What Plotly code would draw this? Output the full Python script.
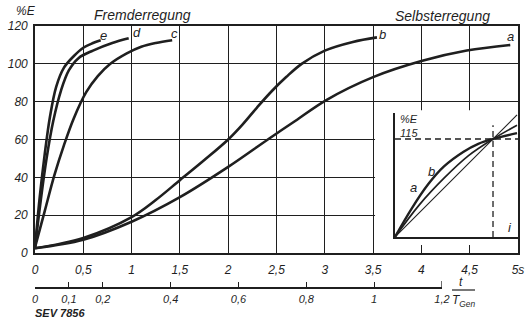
import plotly.graph_objects as go

# --- data -----------------------------------------------------------------
# Time axis (s) and terminal voltage in % of E for the five build-up curves
e_t = [0, 0.05, 0.1, 0.155, 0.22, 0.3, 0.4, 0.5, 0.6, 0.68]
e_v = [3, 30, 52, 72, 88, 98, 104, 108.5, 111, 112.5]

d_t = [0, 0.06, 0.12, 0.19, 0.27, 0.35, 0.45, 0.6, 0.8, 0.97]
d_v = [3, 28, 50, 70, 86, 96.5, 103, 107, 111, 113.5]

c_t = [0, 0.1, 0.2, 0.3, 0.4, 0.53, 0.65, 0.78, 0.95, 1.1, 1.25, 1.42]
c_v = [3, 22, 41, 57, 71, 85, 93.5, 100, 105.5, 109, 111, 112.5]

b_t = [0, 0.5, 1.0, 1.25, 1.5, 1.75, 2.0, 2.15, 2.3, 2.45, 2.6, 2.76, 3.0, 3.29, 3.54]
b_v = [2.5, 8, 19, 28, 38.5, 49, 60, 68, 77, 85.5, 93, 100, 107, 111.6, 114]

a_t = [0, 0.5, 1.0, 1.5, 2.0, 2.41, 2.67, 3.02, 3.5, 4.0, 4.47, 4.92]
a_v = [2.5, 7, 16.5, 29.5, 45.5, 60, 69, 81, 93, 101.5, 107, 110]

# main axis ticks
x_ticks = [0, 0.5, 1, 1.5, 2, 2.5, 3, 3.5, 4, 4.5, 5]
x_tick_text = ["0", "0,5", "1", "1,5", "2", "2,5", "3", "3,5", "4", "4,5", "5s"]
y_ticks = [0, 20, 40, 60, 80, 100, 120]

# relative time t / T_Gen
rel_ticks = [0, 0.1, 0.2, 0.4, 0.6, 0.8, 1, 1.2]
rel_tick_text = ["0", "0,1", "0,2", "0,4", "0,6", "0,8", "1", "1,2"]

# inset: E(i) characteristics, normalised to the 115 % point
lin_i = [0, 1.245]
lin_e = [0, 1.245]
a_in_i = [0, 0.25, 0.5, 0.75, 1.0, 1.245]
a_in_e = [0, 0.33, 0.6, 0.83, 1.0, 1.14]
b_in_i = [0, 0.17, 0.34, 0.5, 0.7, 0.85, 1.0, 1.245]
b_in_e = [0, 0.29, 0.54, 0.72, 0.87, 0.95, 1.0, 1.06]
ref_level = [1.0, 1.0]
ref_span = [0, 1.255]
ref_vline_e = [0, 1.14]

# --- geometry -------------------------------------------------------------
W, H = 529, 320
ML, MR, MT, MB = 35, 11, 26, 8
PW, PH = W - ML - MR, H - MT - MB


def px(xp):
    return (xp - ML) / PW


def py(yp):
    return (H - MB - yp) / PH


INK = "#1f1f1f"
FONT = "Liberation Sans"

fig = go.Figure()

for t, v in [(e_t, e_v), (d_t, d_v), (c_t, c_v), (b_t, b_v), (a_t, a_v)]:
    fig.add_trace(go.Scatter(x=t, y=v, mode="lines",
                             line=dict(color=INK, width=2.6, shape="spline", smoothing=1.0),
                             hoverinfo="skip", showlegend=False))

# carrier for the relative-time scale
fig.add_trace(go.Scatter(x=rel_ticks, y=[0] * len(rel_ticks), xaxis="x3", yaxis="y3",
                         mode="markers", marker=dict(opacity=0), hoverinfo="skip",
                         showlegend=False))

# inset traces
dash = dict(color=INK, width=1.3, dash="6px,4px")
fig.add_trace(go.Scatter(x=ref_span, y=ref_level, xaxis="x2", yaxis="y2", mode="lines",
                         line=dash, hoverinfo="skip", showlegend=False))
fig.add_trace(go.Scatter(x=ref_level, y=ref_vline_e, xaxis="x2", yaxis="y2", mode="lines",
                         line=dash, hoverinfo="skip", showlegend=False))
fig.add_trace(go.Scatter(x=lin_i, y=lin_e, xaxis="x2", yaxis="y2", mode="lines",
                         line=dict(color=INK, width=1.1),
                         hoverinfo="skip", showlegend=False))
fig.add_trace(go.Scatter(x=a_in_i, y=a_in_e, xaxis="x2", yaxis="y2", mode="lines",
                         line=dict(color=INK, width=1.7, shape="spline"),
                         hoverinfo="skip", showlegend=False))
fig.add_trace(go.Scatter(x=b_in_i, y=b_in_e, xaxis="x2", yaxis="y2", mode="lines",
                         line=dict(color=INK, width=2.4, shape="spline"),
                         hoverinfo="skip", showlegend=False))

tfont = dict(family=FONT, size=12, color=INK, style="italic")
rfont = dict(family=FONT, size=11, color=INK, style="italic")

main_dom_y = [py(253), 1.0]
inset_dom_x = [px(395), px(518)]
inset_dom_y = [py(237), py(113)]

fig.update_layout(
    width=W, height=H,
    margin=dict(l=ML, r=MR, t=MT, b=MB, autoexpand=False),
    paper_bgcolor="white", plot_bgcolor="white",
    font=dict(family=FONT, color=INK, style="italic"),
    xaxis=dict(range=[0, 5], tickvals=x_ticks, ticktext=x_tick_text, tickfont=tfont,
               showgrid=True, gridcolor=INK, gridwidth=1.3, zeroline=False,
               showline=True, mirror=True, linecolor=INK, linewidth=1.6,
               ticks="", ticklabelstandoff=5, domain=[0, 1], anchor="y",
               automargin=False),
    yaxis=dict(range=[0, 120], tickvals=y_ticks, tickfont=tfont,
               showgrid=True, gridcolor=INK, gridwidth=1.3, zeroline=False,
               showline=True, mirror=True, linecolor=INK, linewidth=1.6,
               ticks="", ticklabelstandoff=3, domain=main_dom_y, anchor="x",
               automargin=False),
    xaxis2=dict(range=[0, 1.255], domain=inset_dom_x, anchor="y2",
                showgrid=False, zeroline=False, showticklabels=False, ticks="",
                showline=True, linecolor=INK, linewidth=1.5, automargin=False),
    yaxis2=dict(range=[0, 1.265], domain=inset_dom_y, anchor="x2",
                showgrid=False, zeroline=False, showticklabels=False, ticks="",
                showline=True, linecolor=INK, linewidth=1.5, automargin=False),
    xaxis3=dict(range=[0, 1.2], domain=[0, px(442)], anchor="y3",
                tickvals=rel_ticks, ticktext=rel_tick_text, tickfont=rfont,
                ticks="inside", ticklen=5, tickwidth=1.3, tickcolor=INK,
                showgrid=False, zeroline=False,
                showline=True, linecolor=INK, linewidth=1.5, ticklabelstandoff=1,
                automargin=False),
    yaxis3=dict(domain=[py(287), py(270)], anchor="x3", visible=False, range=[0, 1],
                automargin=False),
)

# white panel behind the inset
fig.add_shape(type="rect", xref="x", yref="y", x0=3.52, x1=5, y0=4.2, y1=75.5,
              fillcolor="white", line=dict(width=0), layer="between")

# end tick of the relative scale
fig.add_shape(type="line", xref="x3", yref="paper", x0=1.2, x1=1.2,
              y0=py(287), y1=py(281), line=dict(color=INK, width=1.3))

lab = dict(family=FONT, size=13, color=INK, style="italic")
ann = []
# curve labels next to the curve ends
for name, t, v, dx, dy in [("e", e_t, e_v, 3, 5), ("d", d_t, d_v, 8, 6),
                           ("c", c_t, c_v, 2, 7), ("b", b_t, b_v, 6, 3),
                           ("a", a_t, a_v, 0, 8)]:
    ann.append(dict(x=t[-1], y=v[-1], xref="x", yref="y", text=name, showarrow=False,
                    xanchor="center", yanchor="middle", xshift=dx, yshift=dy,
                    font=lab))

big = dict(family=FONT, size=14, color=INK, style="italic")
small = dict(family=FONT, size=11, color=INK, style="italic")
ann += [
    dict(x=px(142), y=py(15), xref="paper", yref="paper", text="Fremderregung",
         showarrow=False, xanchor="center", yanchor="middle", font=big),
    dict(x=px(442), y=py(16), xref="paper", yref="paper", text="Selbsterregung",
         showarrow=False, xanchor="center", yanchor="middle", font=big),
    dict(x=px(26), y=py(11), xref="paper", yref="paper", text="%E",
         showarrow=False, xanchor="center", yanchor="middle",
         font=dict(family=FONT, size=12, color=INK, style="italic")),
    dict(x=px(461), y=py(282), xref="paper", yref="paper", text="t",
         showarrow=False, xanchor="center", yanchor="middle", font=tfont),
    dict(x=px(464), y=py(301), xref="paper", yref="paper", text="T<sub>Gen</sub>",
         showarrow=False, xanchor="center", yanchor="middle", font=tfont),
    dict(x=px(33), y=py(313), xref="paper", yref="paper", text="<b>SEV 7856</b>",
         showarrow=False, xanchor="left", yanchor="middle", font=small),
    # inset texts
    dict(x=0.03, y=1.2, xref="x2", yref="y2", text="%E", showarrow=False,
         xanchor="left", yanchor="middle", font=rfont),
    dict(x=0.03, y=1.06, xref="x2", yref="y2", text="115", showarrow=False,
         xanchor="left", yanchor="middle", font=rfont),
    dict(x=0.19, y=0.5, xref="x2", yref="y2", text="a", showarrow=False,
         xanchor="center", yanchor="middle", font=lab),
    dict(x=0.37, y=0.67, xref="x2", yref="y2", text="b", showarrow=False,
         xanchor="center", yanchor="middle", font=lab),
    dict(x=1.17, y=0.1, xref="x2", yref="y2", text="i", showarrow=False,
         xanchor="center", yanchor="middle", font=lab),
]
fig.update_layout(annotations=ann)

# fraction bar of t / T_Gen
fig.add_shape(type="line", xref="paper", yref="paper", x0=px(452), x1=px(475),
              y0=py(290), y1=py(290), line=dict(color=INK, width=1.2))

fig.write_html("out.html")
